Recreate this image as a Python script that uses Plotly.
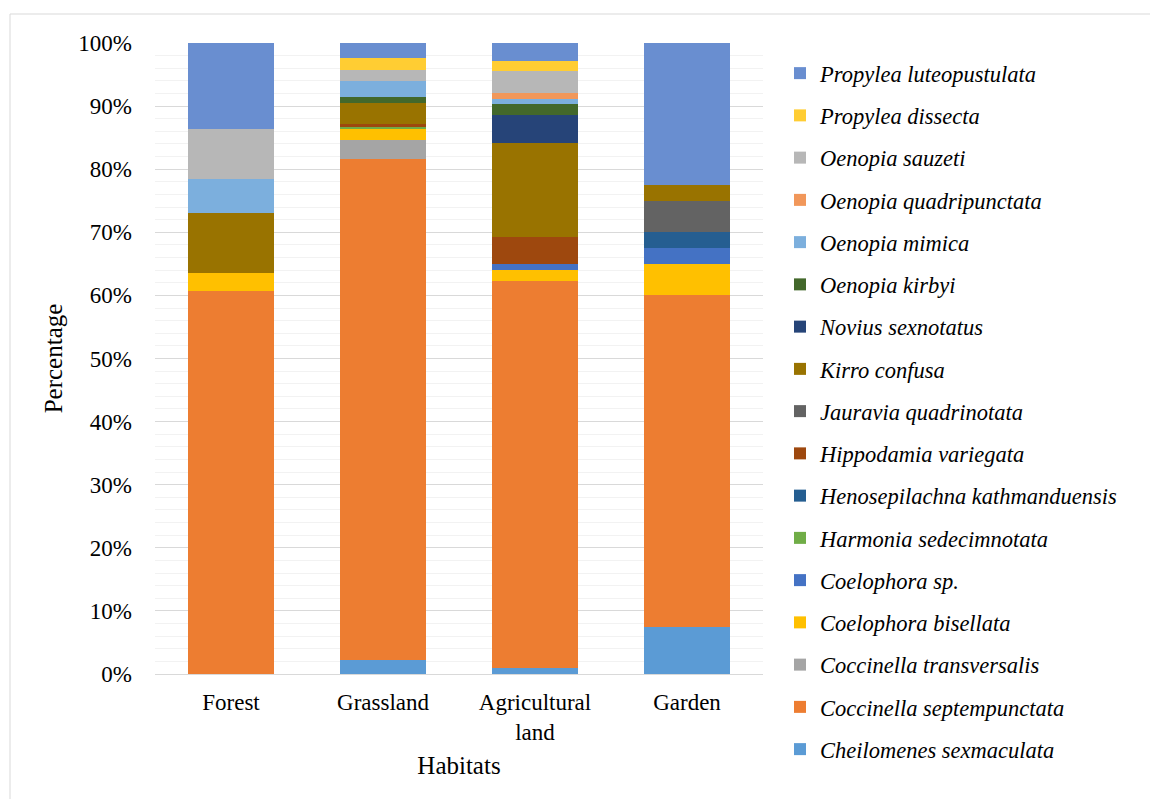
import plotly.graph_objects as go

# Habitats (x categories) and their tick text
habitats = ["Forest", "Grassland", "Agricultural land", "Garden"]
habitat_ticktext = ["Forest", "Grassland", "Agricultural<br>land", "Garden"]

# Percentage share of each species per habitat (stack order: bottom -> top)
cheilomenes_sexmaculata = [0, 2.2, 0.9, 7.5]
coccinella_septempunctata = [60.7, 79.4, 61.4, 52.5]
coccinella_transversalis = [0, 3.0, 0, 0]
coelophora_bisellata = [2.9, 1.7, 1.7, 5.0]
coelophora_sp = [0, 0, 0.9, 2.5]
harmonia_sedecimnotata = [0, 0.4, 0, 0]
henosepilachna_kathmanduensis = [0, 0, 0, 2.5]
hippodamia_variegata = [0, 0.4, 4.4, 0]
jauravia_quadrinotata = [0, 0, 0, 5.0]
kirro_confusa = [9.4, 3.4, 14.9, 2.5]
novius_sexnotatus = [0, 0, 4.4, 0]
oenopia_kirbyi = [0, 0.9, 1.7, 0]
oenopia_mimica = [5.4, 2.6, 0.8, 0]
oenopia_quadripunctata = [0, 0, 0.9, 0]
oenopia_sauzeti = [8.0, 1.7, 3.5, 0]
propylea_dissecta = [0, 1.9, 1.7, 0]
propylea_luteopustulata = [13.6, 2.4, 2.8, 22.5]

series = [
    ("Cheilomenes sexmaculata", cheilomenes_sexmaculata, "#5B9BD5"),
    ("Coccinella septempunctata", coccinella_septempunctata, "#ED7D31"),
    ("Coccinella transversalis", coccinella_transversalis, "#A5A5A5"),
    ("Coelophora bisellata", coelophora_bisellata, "#FFC000"),
    ("Coelophora sp.", coelophora_sp, "#4472C4"),
    ("Harmonia sedecimnotata", harmonia_sedecimnotata, "#70AD47"),
    ("Henosepilachna kathmanduensis", henosepilachna_kathmanduensis, "#255E91"),
    ("Hippodamia variegata", hippodamia_variegata, "#9E480E"),
    ("Jauravia quadrinotata", jauravia_quadrinotata, "#636363"),
    ("Kirro confusa", kirro_confusa, "#997300"),
    ("Novius sexnotatus", novius_sexnotatus, "#264478"),
    ("Oenopia kirbyi", oenopia_kirbyi, "#43682B"),
    ("Oenopia mimica", oenopia_mimica, "#7CAFDD"),
    ("Oenopia quadripunctata", oenopia_quadripunctata, "#F1975A"),
    ("Oenopia sauzeti", oenopia_sauzeti, "#B7B7B7"),
    ("Propylea dissecta", propylea_dissecta, "#FFCD33"),
    ("Propylea luteopustulata", propylea_luteopustulata, "#698ED0"),
]

SERIF = "Liberation Serif, Times New Roman, serif"

fig = go.Figure()
n = len(series)
for i, (name, vals, color) in enumerate(series):
    fig.add_trace(go.Bar(
        name=f"<i>{name}</i>",
        x=habitats,
        y=vals,
        marker=dict(color=color, line=dict(width=0)),
        legendgroup=f"g{i}",
        legendrank=n - i,  # top of the stack listed first
    ))

L, R, T, B = 155, 387, 43, 125
W, H = 1150, 799
pw, ph = W - L - R, H - T - B

fig.update_layout(
    width=W, height=H,
    margin=dict(l=L, r=R, t=T, b=B, autoexpand=False),
    barmode="stack",
    bargap=0.43,
    plot_bgcolor="white",
    paper_bgcolor="white",
    font=dict(family=SERIF, size=21, color="black"),
    legend=dict(
        traceorder="grouped",
        x=(780 - L) / pw, y=1.0 - (52 - T) / ph,
        xanchor="left", yanchor="top",
        font=dict(family=SERIF, size=22.5, color="black"),
        tracegroupgap=10,
        itemwidth=30,
        maxheight=790,
        bgcolor="rgba(0,0,0,0)",
    ),
    xaxis=dict(
        tickmode="array",
        tickvals=habitats,
        ticktext=habitat_ticktext,
        showgrid=False,
        showline=True,
        linecolor="#D9D9D9",
        linewidth=1,
        ticks="",
        ticklabelstandoff=7,
        title=dict(text="Habitats", standoff=12),
        tickfont=dict(size=23),
    ),
    yaxis=dict(
        range=[0, 100],
        dtick=10,
        ticksuffix="%",
        showgrid=True,
        gridcolor="#D9D9D9",
        gridwidth=1,
        zeroline=False,
        ticks="",
        ticklabelstandoff=22,
        minor=dict(dtick=2, showgrid=True, gridcolor="#F2F2F2", gridwidth=1),
        title=dict(text="Percentage", standoff=8),
        tickfont=dict(size=23),
    ),
    shapes=[dict(
        type="rect", xref="paper", yref="paper",
        x0=(10 - L) / pw, x1=(W + 20 - L) / pw,
        y0=-(H + 20 - (H - B)) / ph, y1=1.0 + (T - 14) / ph,
        line=dict(color="#D9D9D9", width=1),
        fillcolor="rgba(0,0,0,0)",
        layer="below",
    )],
)

fig.write_html("out.html")
